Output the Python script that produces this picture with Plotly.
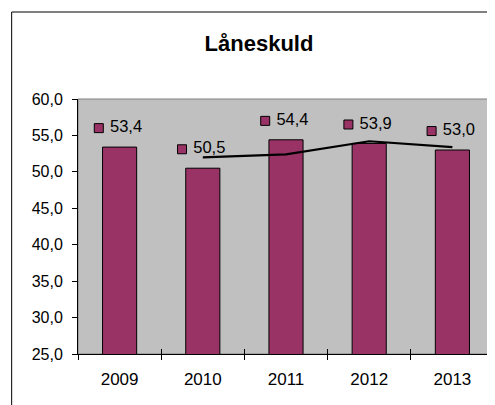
import plotly.graph_objects as go

years = ["2009", "2010", "2011", "2012", "2013"]
values = [53.4, 50.5, 54.4, 53.9, 53.0]
trend_years = ["2010", "2011", "2012", "2013"]
trend_values = [52.0, 52.4, 54.2, 53.4]
title_text = "Låneskuld"

BAR = "#993366"
FONT = "Liberation Sans, Arial, sans-serif"

idx = list(range(len(years)))
trend_idx = [years.index(y) for y in trend_years]
label_gap = 2.6  # data units between bar top and label centre
fmt = lambda v: f"{v:.1f}".replace(".", ",")

OFF = 8  # page body margin
W, H = 495 - OFF, 405 - OFF
PL, PT, PR, PB = 77.5, 99, 494.5, 354  # plot area in window pixels

fig = go.Figure()
fig.add_trace(go.Bar(
    x=years, y=values, width=0.41,
    marker=dict(color=BAR, line=dict(color="black", width=1)),
    hoverinfo="skip", showlegend=False))
fig.add_trace(go.Scatter(
    x=trend_idx, y=trend_values, xaxis="x2", mode="lines",
    line=dict(color="black", width=2.2), showlegend=False, hoverinfo="skip"))
fig.add_trace(go.Scatter(
    x=[i - 0.25 for i in idx], y=[v + label_gap for v in values], xaxis="x2",
    mode="markers+text", text=[" " + fmt(v) for v in values], textposition="middle right",
    textfont=dict(family=FONT, size=16.5, color="black"),
    marker=dict(symbol="square", size=9, color=BAR, line=dict(color="black", width=1)),
    showlegend=False, hoverinfo="skip"))

pw, ph = PR - PL, PB - PT
fig.update_layout(
    width=W, height=H,
    margin=dict(l=PL - OFF, r=W - (PR - OFF), t=PT - OFF, b=H - (PB - OFF), autoexpand=False),
    paper_bgcolor="white", plot_bgcolor="#C0C0C0",
    separators=",.",
    title=dict(text=f"<b>{title_text}</b>", x=(259 - OFF) / W, xanchor="center",
               y=1 - (43 - OFF) / H, yanchor="middle",
               font=dict(family=FONT, size=22, color="black")),
    xaxis=dict(type="category", tickson="boundaries", ticks="outside", ticklen=5,
               tickcolor="black", showline=True, linecolor="black", linewidth=1,
               showgrid=False, automargin=False, ticklabelstandoff=10,
               tickfont=dict(family=FONT, size=17, color="black"),
               range=[-0.5, 4.5]),
    xaxis2=dict(overlaying="x", anchor="y", range=[-0.5, 4.5], side="bottom",
                tickvals=[i + 0.5 for i in idx], ticks="inside", ticklen=5,
                tickcolor="black", showticklabels=False, showgrid=False,
                zeroline=False, showline=False, automargin=False),
    yaxis=dict(range=[25, 60], dtick=5, tickformat=".1f", ticks="outside", ticklen=5,
               tickcolor="black", showline=True, linecolor="black", linewidth=1,
               showgrid=False, zeroline=False, automargin=False, ticklabelstandoff=6,
               tickfont=dict(family=FONT, size=16, color="black")),
    yaxis2=dict(overlaying="y", anchor="x", range=[25, 60], dtick=5, ticks="inside",
                ticklen=4, tickcolor="black", showticklabels=False, showgrid=False,
                zeroline=False, showline=False, automargin=False),
    shapes=[
        dict(type="rect", xref="paper", yref="paper", x0=0, x1=1, y0=0, y1=1,
             line=dict(color="#808080", width=1), layer="below"),
        dict(type="rect", xref="paper", yref="paper", x0=(11 - PL) / pw,
             x1=1.3, y0=-0.5, y1=(PB - 12) / ph, line=dict(color="black", width=1)),
    ],
)

fig.write_html("out.html")
